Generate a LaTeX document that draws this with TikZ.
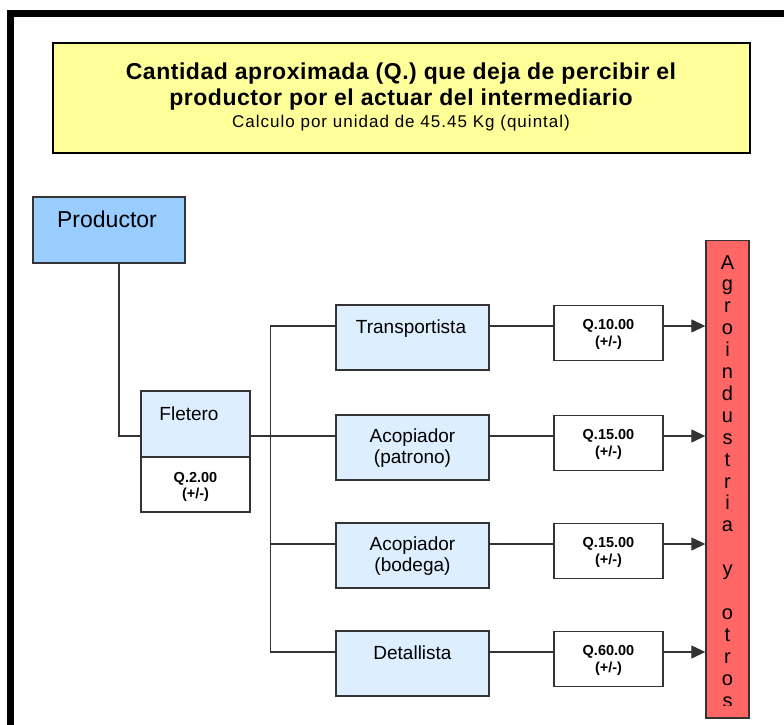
\documentclass[tikz,border=0pt]{standalone}
\usepackage{fontspec}
\setmainfont{Liberation Sans}
\usetikzlibrary{arrows.meta}

\definecolor{titlefill}{HTML}{FFFF99}
\definecolor{prodfill}{HTML}{99CCFF}
\definecolor{stagefill}{HTML}{DDEEFF}
\definecolor{barfill}{HTML}{FF6666}
\definecolor{edge}{HTML}{333333}

\tikzset{
  box/.style={draw=edge, line width=1.4pt, rectangle, inner sep=0pt},
  stagebox/.style={box, fill=stagefill, minimum width=153pt, minimum height=65pt},
  pricebox/.style={box, fill=white, minimum width=109pt, minimum height=55pt},
  link/.style={draw=edge, line width=1.3pt},
  flow/.style={link, -{Triangle[length=14pt,width=13pt]}},
  stagetxt/.style={anchor=base, font=\fontsize{19}{22}\selectfont},
  pricetxt/.style={anchor=base, font=\fontsize{14.5}{17}\selectfont\bfseries},
  bartxt/.style={anchor=base, font=\fontsize{20}{22}\selectfont, inner sep=0pt},
  headtxt/.style={anchor=base, font=\fontsize{23}{26}\selectfont\bfseries\addfontfeatures{LetterSpace=2.3}},
  subtxt/.style={anchor=base, font=\fontsize{17}{19}\selectfont\addfontfeatures{LetterSpace=6}}
}

\begin{document}
\begin{tikzpicture}[x=1pt,y=-1pt]
\useasboundingbox (0,0) rectangle (784,725);
\clip (0,0) rectangle (784,725);
\fill[white] (0,0) rectangle (784,725);

% page frame, running off the right and bottom edges
\draw[line width=6.7pt] (10.7,13.3) rectangle (820,760);

% heading
\node[box, line width=2.8pt, draw=black, fill=titlefill, minimum width=697pt, minimum height=110pt]
  (title) at (401.5,98) {};
\node[headtxt] (t1) at (401,79) {Cantidad aproximada (Q.) que deja de percibir el};
\node[headtxt] (t2) at (401,105) {productor por el actuar del intermediario};
\node[subtxt] (t3) at (401,127) {Calculo por unidad de 45.45 Kg (quintal)};

% producer
\node[box, fill=prodfill, minimum width=152pt, minimum height=66pt] (prod) at (109,230) {};
\node[anchor=base, font=\fontsize{23}{26}\selectfont] (prodtxt) at (107,227) {Productor};

% fletero (two-part box)
\node[box, fill=stagefill, minimum width=109pt, minimum height=66pt] (fletU) at (195.5,424) {};
\node[box, fill=white, minimum width=109pt, minimum height=55pt] (fletL) at (195.5,484.5) {};
\node[stagetxt] (fletxt) at (189,420) {Fletero};
\node[pricetxt] (fq) at (195.5,482) {Q.2.00};
\node[pricetxt] (fpm) at (195.5,498.5) {(+/-)};

% intermediaries
\node[stagebox] (trans) at (412.5,337.5) {};
\node[stagebox] (acoP) at (412.5,447.5) {};
\node[stagebox] (acoB) at (412.5,555.5) {};
\node[stagebox] (detal) at (412.5,663.5) {};
\node[stagetxt] (transtxt) at (411,333) {Transportista};
\node[stagetxt] (acoPa) at (412.5,442) {Acopiador};
\node[stagetxt] (acoPb) at (412.5,463) {(patrono)};
\node[stagetxt] (acoBa) at (412.5,550) {Acopiador};
\node[stagetxt] (acoBb) at (412.5,571) {(bodega)};
\node[stagetxt] (detaltxt) at (412.5,659) {Detallista};

% amounts
\node[pricebox] (p1) at (608.5,333) {};
\node[pricebox] (p2) at (608.5,443) {};
\node[pricebox] (p3) at (608.5,551) {};
\node[pricebox] (p4) at (608.5,659) {};
\node[pricetxt] (q1) at (608.5,329) {Q.10.00};
\node[pricetxt] (m1) at (608.5,346) {(+/-)};
\node[pricetxt] (q2) at (608.5,439) {Q.15.00};
\node[pricetxt] (m2) at (608.5,456) {(+/-)};
\node[pricetxt] (q3) at (608.5,547) {Q.15.00};
\node[pricetxt] (m3) at (608.5,564) {(+/-)};
\node[pricetxt] (q4) at (608.5,655) {Q.60.00};
\node[pricetxt] (m4) at (608.5,672) {(+/-)};

% destination bar
\node[box, fill=barfill, minimum width=43pt, minimum height=477.5pt] (bar) at (727.5,479.25) {};
\begin{scope}
  \clip (706,242) rectangle (749,705.5);
  \foreach \ch/\k in {A/0,g/1,r/2,o/3,i/4,n/5,d/6,u/7,s/8,t/9,r/10,i/11,a/12,
                      y/14,o/16,t/17,r/18,o/19,s/20}
    \node[bartxt] (bar\k) at (727.5,{269+21.9*\k}) {\ch};
\end{scope}

% connectors
\draw[link] ([xshift=10pt]prod.south) |- ([yshift=-12pt]fletU.west);
\draw[link] ([yshift=-12pt]fletU.east) -- ([yshift=11.5pt]acoP.west);
\draw[link] ([yshift=11.5pt]trans.west) -- ++(-65,0) |- ([yshift=11.5pt]detal.west);
\draw[link] ([yshift=11.5pt]acoB.west) -- ++(-65,0);

\draw[link] ([yshift=11.5pt]trans.east) -- ([yshift=7pt]p1.west);
\draw[link] ([yshift=11.5pt]acoP.east) -- ([yshift=7pt]p2.west);
\draw[link] ([yshift=11.5pt]acoB.east) -- ([yshift=7pt]p3.west);
\draw[link] ([yshift=11.5pt]detal.east) -- ([yshift=7pt]p4.west);

\draw[flow] ([yshift=7pt]p1.east) -- ([yshift=7pt]p1.east -| bar.west);
\draw[flow] ([yshift=7pt]p2.east) -- ([yshift=7pt]p2.east -| bar.west);
\draw[flow] ([yshift=7pt]p3.east) -- ([yshift=7pt]p3.east -| bar.west);
\draw[flow] ([yshift=7pt]p4.east) -- ([yshift=7pt]p4.east -| bar.west);
\end{tikzpicture}
\end{document}
